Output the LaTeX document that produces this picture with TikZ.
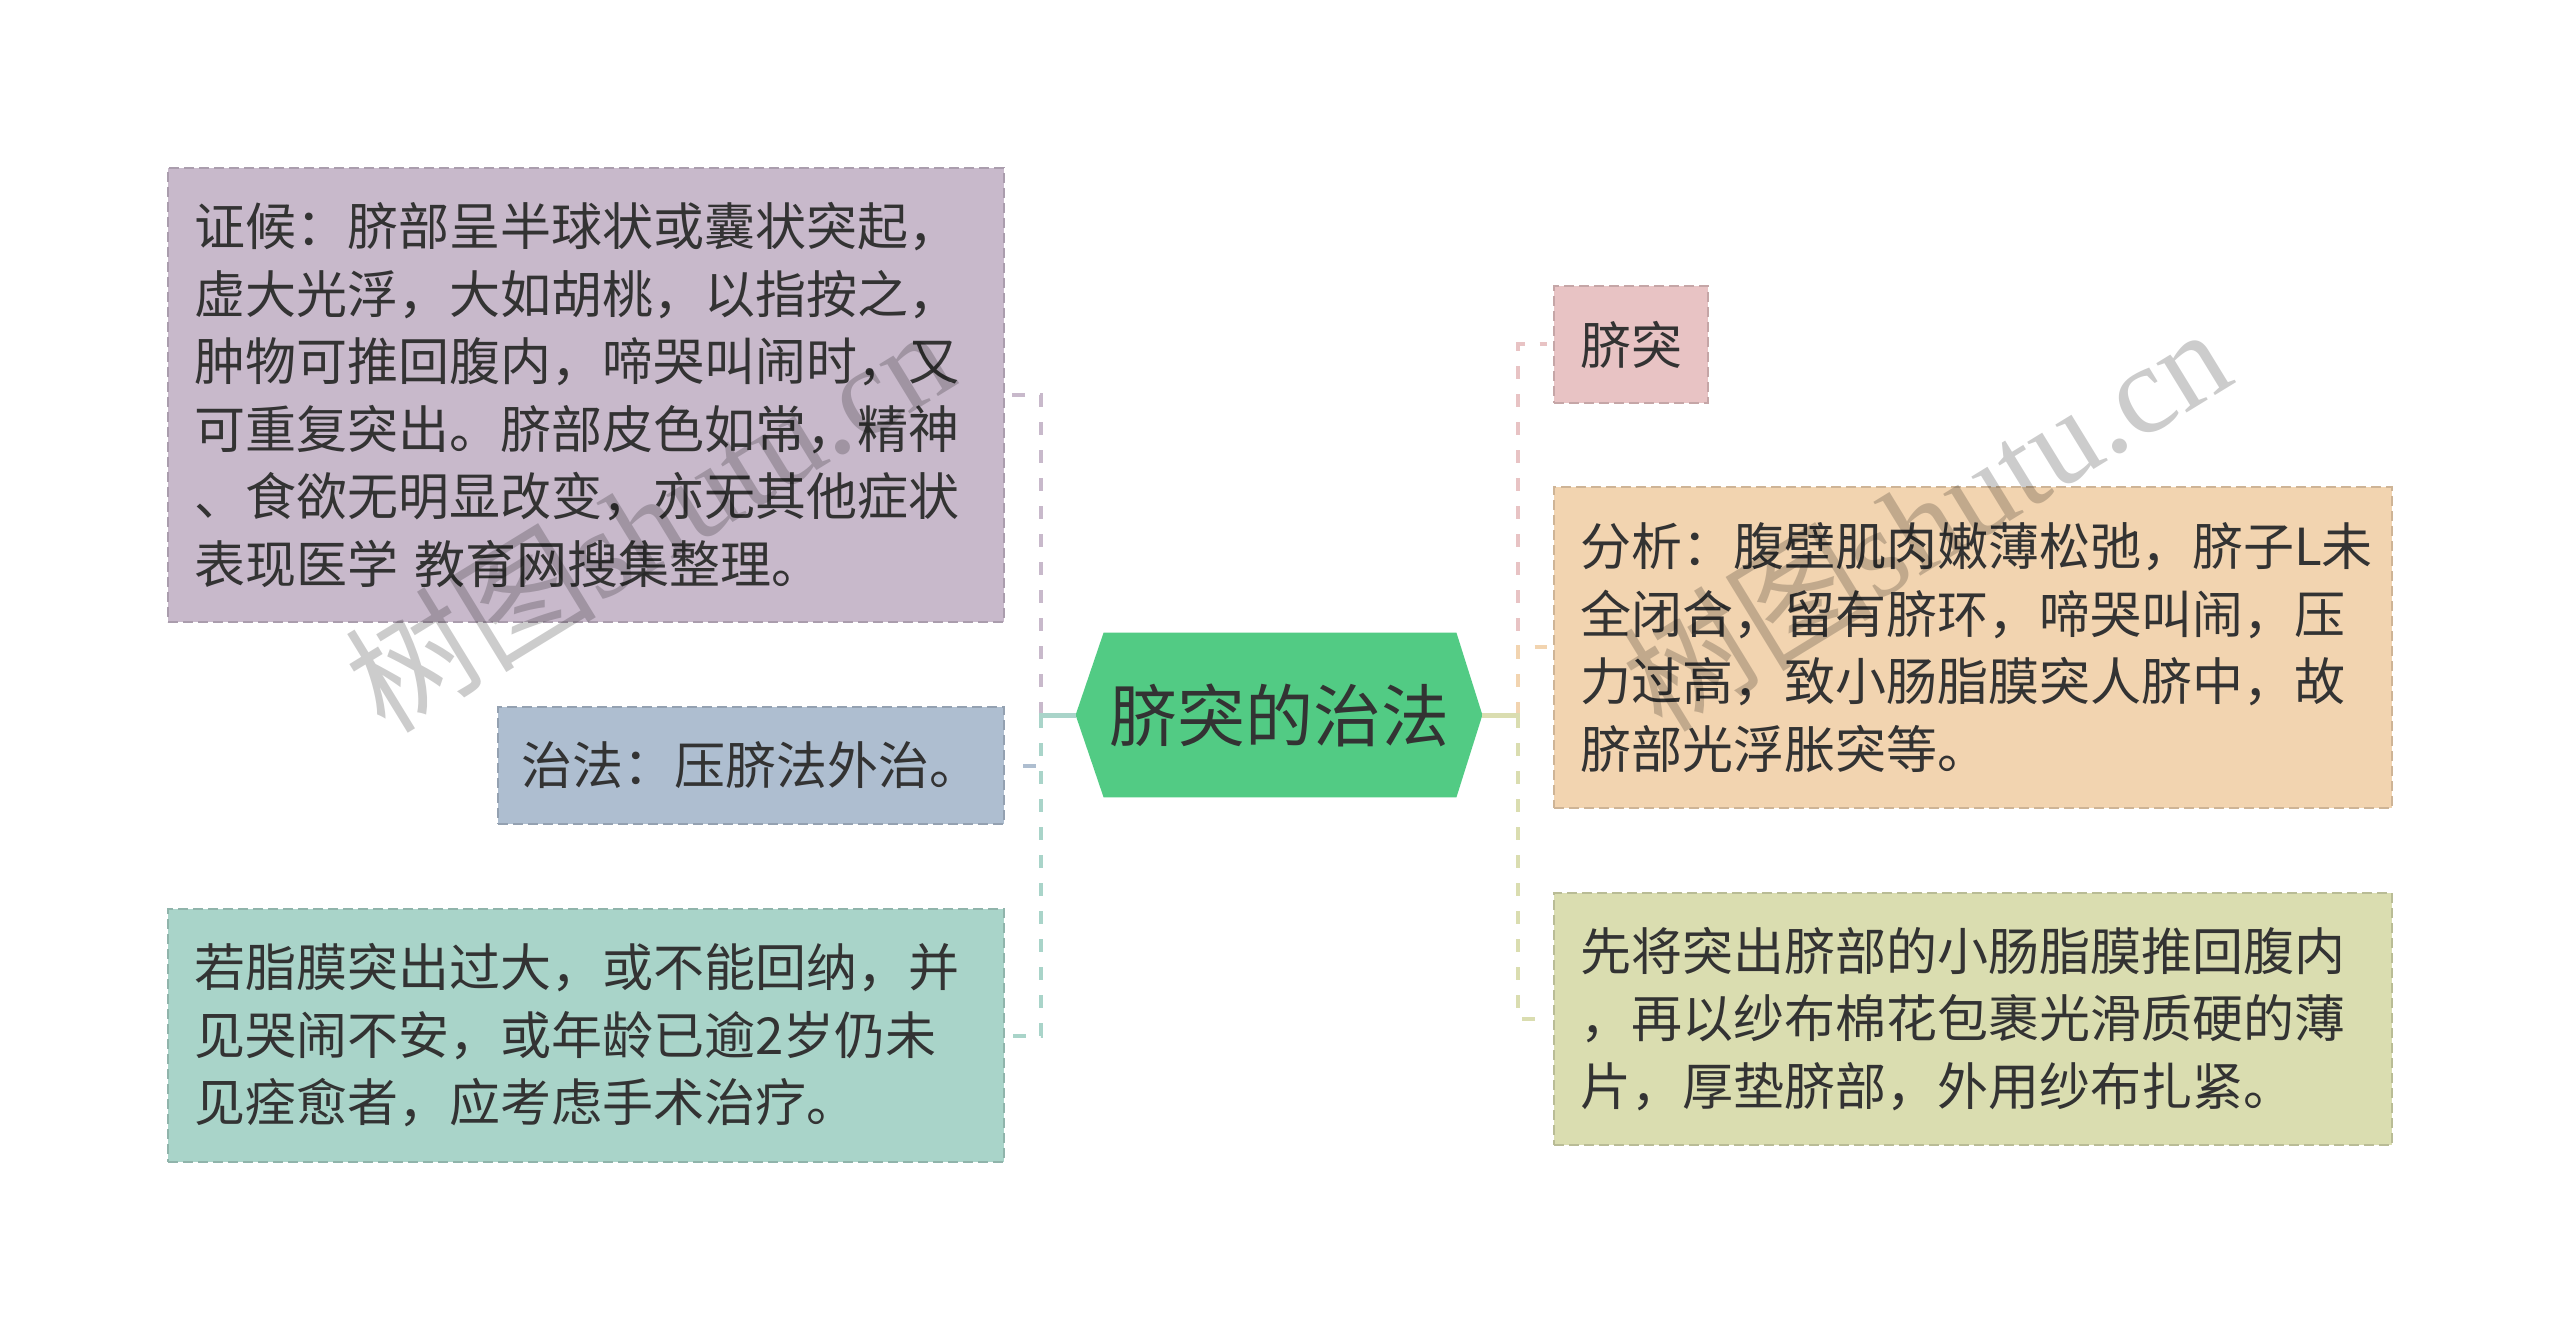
\documentclass[tikz,border=0pt]{standalone}
\usepackage{fontspec}
\setmainfont{Noto Sans CJK SC}
\newfontfamily\wmlatin{Liberation Serif}
\definecolor{txt}{HTML}{333333}
\definecolor{cpurple}{HTML}{C8B9CB}
\definecolor{cblue}{HTML}{AEBED0}
\definecolor{cteal}{HTML}{A9D4C9}
\definecolor{cpink}{HTML}{E8C3C4}
\definecolor{cpeach}{HTML}{F2D4B0}
\definecolor{colive}{HTML}{DADDB0}
\definecolor{cgreen}{HTML}{52CB84}
\pgfdeclarelayer{bg}
\pgfsetlayers{bg,main}
\begin{document}
\begin{tikzpicture}[x=0.5pt,y=-0.5pt,
  box/.style={draw=#1!85!black, fill=#1, dash pattern=on 5pt off 2.5pt, line width=0.8pt,
    inner ysep=0pt, inner xsep=13pt, align=left, text=txt,
    font=\fontsize{25.5pt}{33.75pt}\selectfont},
  conn/.style={draw=#1, line width=2pt, dash pattern=on 6.5pt off 7.5pt},
  trunk/.style={draw=#1, line width=2.5pt},
  wm/.style={text=black, text opacity=0.2, rotate=31.5, inner sep=0pt,
    font=\fontsize{63pt}{63pt}\selectfont}
]
\useasboundingbox (0,0) rectangle (2560,1331);

% left children
\node[box=cpurple, text width=392pt, minimum height=227pt] (p1) at (586,395)
  {证候：脐部呈半球状或囊状突起，\\虚大光浮，大如胡桃，以指按之，\\肿物可推回腹内，啼哭叫闹时，又\\可重复突出。脐部皮色如常，精神\\、食欲无明显改变，亦无其他症状\\表现医学 教育网搜集整理。};
\node[box=cblue, inner xsep=11.75pt, text width=229.5pt, minimum height=58.5pt] (p2) at (751,765.5)
  {治法：压脐法外治。};
\node[box=cteal, text width=392pt, minimum height=126.5pt] (p3) at (586,1035.5)
  {若脂膜突出过大，或不能回纳，并\\见哭闹不安，或年龄已逾2岁仍未\\见痊愈者，应考虑手术治疗。};

% right children
\node[box=cpink, text width=51pt, minimum height=58.5pt] (q1) at (1631,344.5) {脐突};
\node[box=cpeach, text width=393pt, minimum height=160.5pt] (q2) at (1973,647.5)
  {分析：腹壁肌肉嫩薄松弛，脐子L未\\全闭合，留有脐环，啼哭叫闹，压\\力过高，致小肠脂膜突人脐中，故\\脐部光浮胀突等。};
\node[box=colive, text width=393pt, minimum height=126pt] (q3) at (1973,1019)
  {先将突出脐部的小肠脂膜推回腹内\\，再以纱布棉花包裹光滑质硬的薄\\片，厚垫脐部，外用纱布扎紧。};

% root
\node[inner sep=0pt, minimum width=203pt, minimum height=82pt, text=txt,
  font=\fontsize{34pt}{34pt}\selectfont] (root) at (1279,715) {脐突的治法};
\begin{pgfonlayer}{bg}
\fill[white] (0,0) rectangle (2560,1331);
\fill[cgreen] (root.west) -- ([xshift=14pt]root.north west) -- ([xshift=-13pt]root.north east)
  -- (root.east) -- ([xshift=-13pt]root.south east) -- ([xshift=14pt]root.south west) -- cycle;
\end{pgfonlayer}

% connectors
\coordinate (jl) at (1041,715);
\coordinate (jr) at (1518,715);
\draw[conn=cpurple] (jl) |- ([xshift=3pt]p1.east);
\draw[conn=cblue] (jl) |- ([xshift=3pt]p2.east);
\draw[conn=cteal] (jl) |- ([xshift=3pt]p3.east);
\draw[trunk=cteal] (root.west) -- ([xshift=-1pt]jl);
\draw[conn=cpink] (jr) |- ([xshift=-3pt]q1.west);
\draw[conn=cpeach] (jr) |- ([xshift=-3pt]q2.west);
\draw[conn=colive] (jr) |- ([xshift=-3pt]q3.west);
\draw[trunk=colive] (root.east) -- ([xshift=1pt]jr);

% watermarks
\node[wm] (wm1) at (648,518) {树图{\wmlatin shutu.cn}};
\node[wm] (wm2) at (1925,517) {树图{\wmlatin shutu.cn}};
\end{tikzpicture}
\end{document}
